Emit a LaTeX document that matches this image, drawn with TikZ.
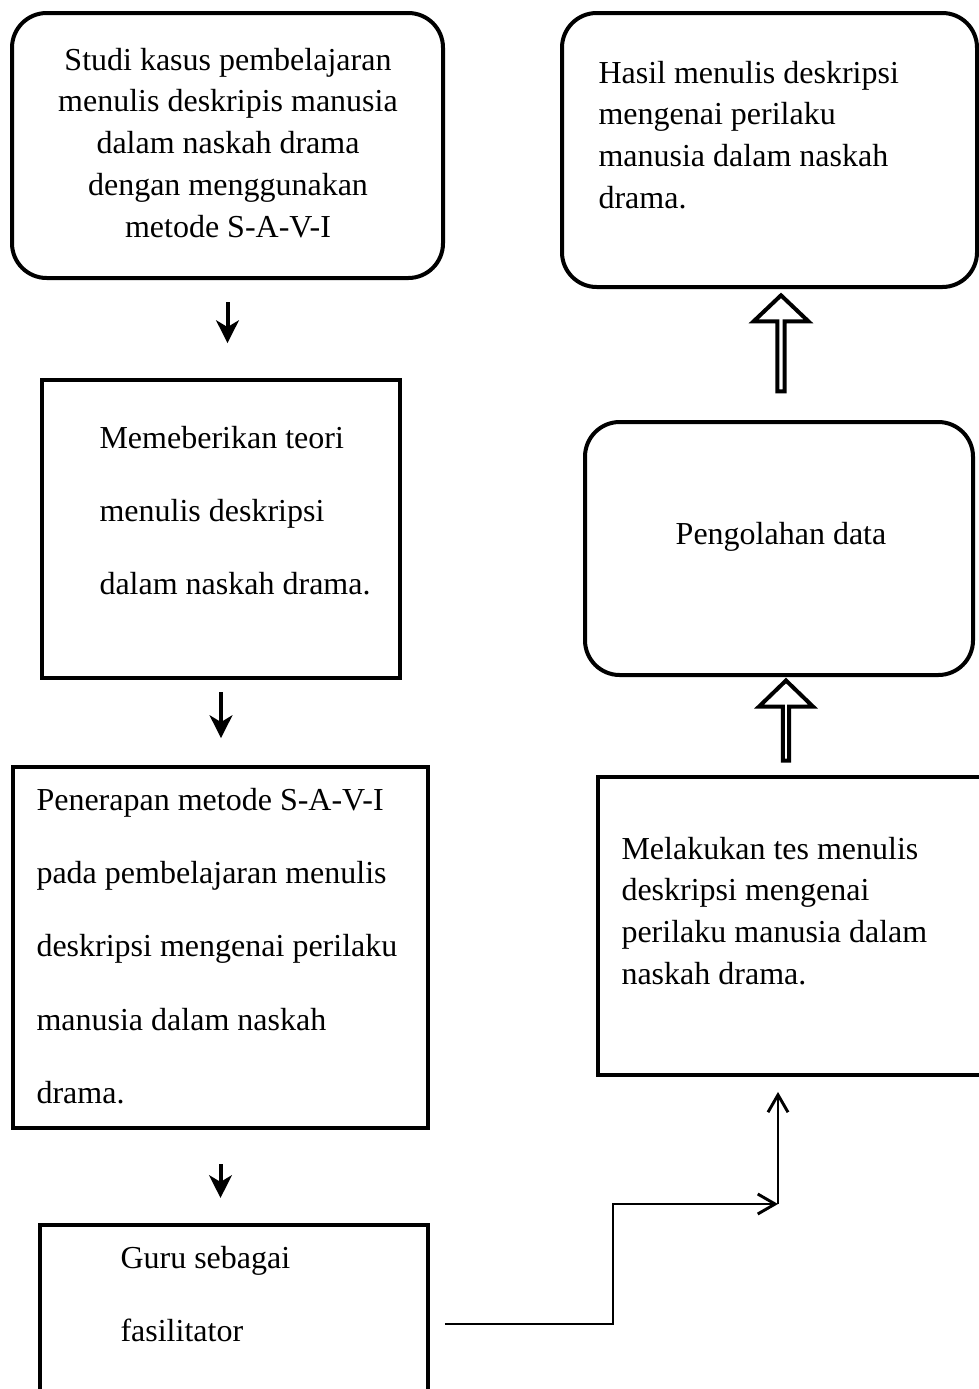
\documentclass[tikz,border=0pt]{standalone}
\usepackage{fontspec}
\setmainfont{Liberation Serif}
\usetikzlibrary{arrows.meta, shapes.arrows}
\newcommand{\pxu}{0.375pt}

\begin{document}
\begin{tikzpicture}[x=0.375pt, y=-0.375pt,
  rbox/.style={draw, line width=1.5pt, rounded corners=13pt, inner sep=0pt},
  sbox/.style={draw, line width=1.5pt, inner sep=0pt},
  onetxt/.style={inner sep=0pt, text width=#1, align=flush left, anchor=base west,
    font=\fontsize{12}{15.7}\selectfont},
  twotxt/.style={inner sep=0pt, text width=#1, align=flush left, anchor=base west,
    font=\fontsize{12}{27.5}\selectfont},
  down/.style={line width=1.5pt, -{Stealth[length=8.5pt, width=8.5pt, inset=2.5pt]}},
  hollow/.style={single arrow, draw, line width=1.5pt, rotate=90, inner sep=0pt},
  link/.style={line width=1.1pt, -{Straight Barb[length=6.5pt, width=7.5pt]}}]
\useasboundingbox (0,0) rectangle (979,1389);
\clip (0,0) rectangle (979,1389);
% Left column
\node[rbox, minimum width=431*\pxu, minimum height=265*\pxu] (studi) at (227.5,145.5) {};
\node[inner sep=0pt, text width=400*\pxu, align=flush center, anchor=base,
  font=\fontsize{12}{15.7}\selectfont] (studitxt) at (228,70)
  {Studi kasus pembelajaran\\ menulis deskripis manusia\\ dalam naskah drama\\ dengan menggunakan\\ metode S-A-V-I};
\node[sbox, minimum width=358*\pxu, minimum height=298*\pxu] (teori) at (221,529) {};
\node[twotxt=290*\pxu] (teoritxt) at (99,448)
  {Memeberikan teori\\ menulis deskripsi\\ dalam naskah drama.};
\node[sbox, minimum width=415*\pxu, minimum height=361*\pxu] (terap) at (220.5,947.5) {};
\node[twotxt=380*\pxu] (teraptxt) at (36,810)
  {Penerapan metode S-A-V-I\\ pada pembelajaran menulis\\ deskripsi mengenai perilaku\\ manusia dalam naskah\\ drama.};
\node[sbox, minimum width=388*\pxu, minimum height=198*\pxu] (guru) at (234,1324) {};
\node[twotxt=280*\pxu] (gurutxt) at (120,1268) {Guru sebagai\\ fasilitator};
% Right column
\node[rbox, minimum width=415*\pxu, minimum height=274*\pxu] (hasil) at (769.5,150) {};
\node[onetxt=340*\pxu] (hasiltxt) at (598,83)
  {Hasil menulis deskripsi\\ mengenai perilaku\\ manusia dalam naskah\\ drama.};
\node[rbox, minimum width=388*\pxu, minimum height=253*\pxu] (olah) at (779,548.5) {};
\node[inner sep=0pt, anchor=base, font=\fontsize{12}{15.7}\selectfont] (olahtxt) at (781,544) {Pengolahan data};
\node[sbox, minimum width=402*\pxu, minimum height=298*\pxu] (tes) at (799,926) {};
\node[onetxt=340*\pxu] (testxt) at (621,859)
  {Melakukan tes menulis\\ deskripsi mengenai\\ perilaku manusia dalam\\ naskah drama.};
% Arrows
\draw[down, shorten <=8.25pt, shorten >=13.1pt] (studi.south) -- (studi.south |- teori.north);
\draw[down, shorten <=4.5pt, shorten >=10.1pt] (teori.south) -- (teori.south |- terap.north);
\draw[down, shorten <=12.75pt, shorten >=9.4pt] (terap.south) -- (terap.south |- guru.north);
\node[hollow, minimum height=36pt, minimum width=20.6pt, single arrow head extend=5.1pt,
  single arrow tip angle=93] (up1) at (781,345) {};
\node[hollow, minimum height=30pt, minimum width=20.25pt, single arrow head extend=5.8pt,
  single arrow tip angle=92] (up2) at (786,722) {};
\coordinate (elbow) at (778,1204);
\draw[link, shorten <=5.6pt] (guru.east) -- ++(183,0) |- (elbow);
\draw[link, shorten >=5.6pt] (elbow) -- (elbow |- tes.south);
\end{tikzpicture}
\end{document}
